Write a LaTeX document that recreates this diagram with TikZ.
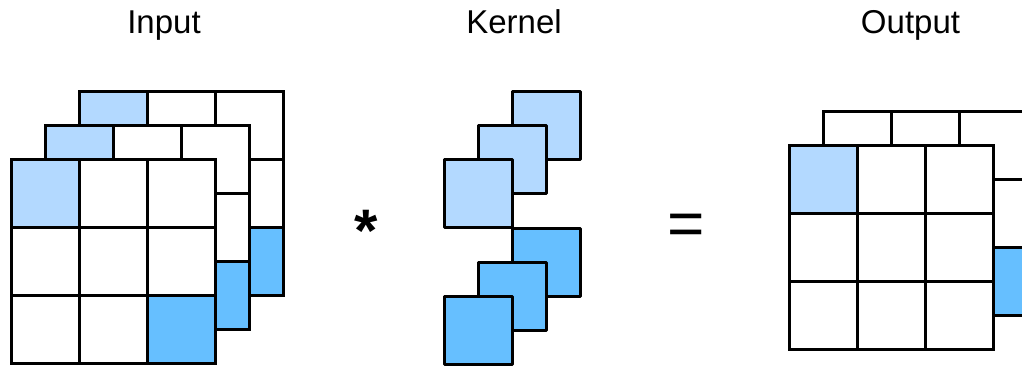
\documentclass[tikz,border=0pt]{standalone}
\usepackage{fontspec}
\setmainfont{Liberation Sans}
\definecolor{lightblue}{RGB}{179,217,255}
\definecolor{darkblue}{RGB}{102,191,255}
\newcommand\gridlayer[4]{%
  \fill[white] (#1,#2) rectangle ++(204,204);
  \fill[#3] (#1,#2) rectangle ++(68,68);
  \fill[#4] (#1+136,#2+136) rectangle ++(68,68);
  \foreach \i in {0,68,136,204} {
    \draw[gridline] (#1+\i,#2) -- ++(0,204);
    \draw[gridline] (#1,#2+\i) -- ++(204,0);
  }
}
\begin{document}
\begin{tikzpicture}[x=1pt,y=-1pt,
  gridline/.style={line width=3pt, line cap=rect, line join=round},
  kbox/.style={line width=3pt, line join=round, draw=black},
  lbl/.style={font=\fontsize{33}{40}\selectfont, inner sep=0pt, anchor=base},
  opsym/.style={inner sep=0pt, anchor=base}]
\useasboundingbox (0,0) rectangle (1022,365);
\clip (0,0) rectangle (1022,365);
% Input
\gridlayer{79}{91}{lightblue}{darkblue}
\gridlayer{45}{125}{lightblue}{darkblue}
\gridlayer{11}{159}{lightblue}{darkblue}
% Kernel
\filldraw[kbox, fill=lightblue] (512,91) rectangle ++(68,68);
\filldraw[kbox, fill=lightblue] (478,125) rectangle ++(68,68);
\filldraw[kbox, fill=lightblue] (444,159) rectangle ++(68,68);
\filldraw[kbox, fill=darkblue] (512,228) rectangle ++(68,68);
\filldraw[kbox, fill=darkblue] (478,262) rectangle ++(68,68);
\filldraw[kbox, fill=darkblue] (444,296) rectangle ++(68,68);
% Output
\gridlayer{823}{111}{white}{darkblue}
\gridlayer{789}{145}{lightblue}{white}
% Labels
\node[lbl] (tin) at (164,33) {Input};
\node[lbl] (tk) at (514,33) {Kernel};
\node[lbl] (tout) at (910.5,33) {Output};
\node[opsym, font=\fontsize{60}{70}\selectfont\bfseries] (star) at (366,251) {*};
\node[opsym, font=\fontsize{64}{70}\selectfont] (eq) at (686,245) {=};
\end{tikzpicture}
\end{document}
